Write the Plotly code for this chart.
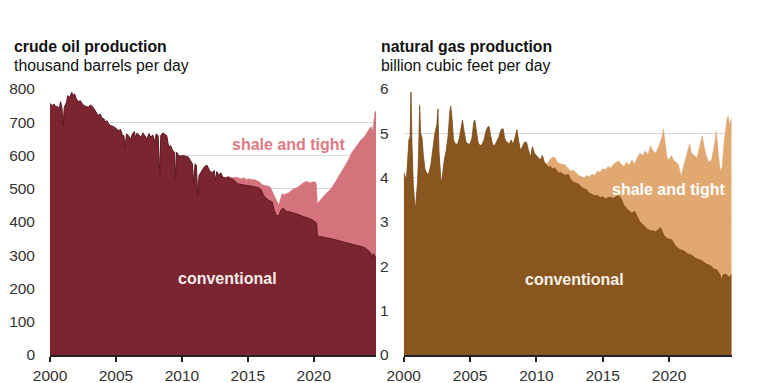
import plotly.graph_objects as go
from plotly.subplots import make_subplots

# ---------------- crude oil (thousand barrels per day) ----------------
oil_conv_year = [
    2000.00, 2000.15, 2000.30, 2000.45, 2000.55, 2000.70, 2000.80, 2000.90, 2001.00, 2001.08,
    2001.25, 2001.35, 2001.50, 2001.65, 2001.75, 2001.85, 2002.00, 2002.15, 2002.30, 2002.45,
    2002.60, 2002.75, 2002.90, 2003.05, 2003.20, 2003.35, 2003.50, 2003.65, 2003.80, 2003.95,
    2004.10, 2004.20, 2004.30, 2004.45, 2004.60, 2004.75, 2004.90, 2005.05, 2005.20, 2005.35,
    2005.50, 2005.60, 2005.70, 2005.80, 2005.95, 2006.10, 2006.25, 2006.40, 2006.50, 2006.60,
    2006.75, 2006.90, 2007.05, 2007.20, 2007.35, 2007.50, 2007.65, 2007.80, 2007.95, 2008.05,
    2008.20, 2008.33, 2008.40, 2008.55, 2008.70, 2008.85, 2009.00, 2009.15, 2009.30, 2009.45,
    2009.52, 2009.60, 2009.75, 2009.90, 2010.10, 2010.30, 2010.50, 2010.65, 2010.80, 2010.90,
    2011.00, 2011.10, 2011.20, 2011.30, 2011.50, 2011.70, 2011.90, 2012.10, 2012.30, 2012.45,
    2012.55, 2012.65, 2012.80, 2012.95, 2013.10, 2013.30, 2013.50, 2013.70, 2013.90, 2014.20,
    2014.60, 2015.00, 2015.40, 2015.80, 2016.00, 2016.20, 2016.35, 2016.60, 2016.85, 2017.00,
    2017.17, 2017.35, 2017.55, 2017.70, 2017.90, 2018.20, 2018.50, 2018.80, 2019.10, 2019.40,
    2019.70, 2019.95, 2020.15, 2020.22, 2020.27, 2020.45, 2020.70, 2021.00, 2021.30, 2021.60,
    2021.90, 2022.20, 2022.50, 2022.80, 2023.10, 2023.40, 2023.70, 2023.90, 2024.10, 2024.30,
    2024.40, 2024.50, 2024.60, 2024.72,
]
oil_conventional = [
    757, 750, 755, 745, 748, 740, 762, 745, 690, 745,
    760, 780, 775, 790, 778, 786, 770, 762, 765, 755,
    750, 748, 745, 752, 748, 740, 730, 720, 725, 712,
    710, 700, 705, 695, 690, 688, 685, 680, 675, 678,
    660, 660, 625, 665, 660, 648, 665, 672, 650, 668,
    660, 655, 668, 660, 650, 666, 655, 662, 640, 665,
    660, 541, 660, 668, 665, 660, 625, 630, 615, 610,
    532, 610, 600, 598, 600, 597, 595, 585, 575, 512,
    575, 570, 481, 540, 555, 566, 571, 555, 548, 555,
    525, 552, 540, 548, 535, 532, 535, 530, 528, 515,
    512, 510, 507, 503, 498, 480, 472, 465, 460, 435,
    418, 420, 438, 441, 432, 430, 427, 423, 418, 415,
    410, 405, 400, 396, 358, 356, 354, 352, 350, 347,
    345, 341, 338, 336, 333, 330, 325, 322, 316, 308,
    290, 305, 300, 292,
]

oil_total_year = [
    2013.30, 2013.50, 2013.70, 2013.90, 2014.10, 2014.30, 2014.50, 2014.70, 2014.90, 2015.10,
    2015.30, 2015.50, 2015.70, 2015.90, 2016.10, 2016.30, 2016.50, 2016.70, 2016.90, 2017.05,
    2017.17, 2017.35, 2017.45, 2017.60, 2017.75, 2017.90, 2018.10, 2018.30, 2018.50, 2018.70,
    2018.90, 2019.10, 2019.30, 2019.50, 2019.70, 2019.90, 2020.10, 2020.20, 2020.27, 2020.40,
    2020.60, 2020.80, 2021.00, 2021.30, 2021.60, 2021.80, 2022.10, 2022.35, 2022.60, 2022.85,
    2023.10, 2023.36, 2023.60, 2023.86, 2024.00, 2024.20, 2024.37, 2024.45, 2024.55, 2024.62,
    2024.72,
]
oil_total = [
    533, 537, 535, 533, 535, 532, 530, 533, 528, 530,
    527, 528, 525, 520, 512, 511, 508, 505, 490, 475,
    466, 451, 465, 486, 482, 485, 488, 495, 500, 502,
    508, 512, 520, 522, 518, 520, 521, 515, 455, 462,
    472, 480, 488, 500, 518, 532, 550, 566, 585, 607,
    622, 637, 648, 657, 667, 680, 687, 672, 700, 727,
    735,
]

# ---------------- natural gas (billion cubic feet per day) ----------------
gas_conv_year = [
    2000.00, 2000.10, 2000.20, 2000.30, 2000.40, 2000.48, 2000.55, 2000.62, 2000.72, 2000.87,
    2000.95, 2001.05, 2001.12, 2001.20, 2001.28, 2001.38, 2001.48, 2001.60, 2001.75, 2001.90,
    2002.05, 2002.20, 2002.35, 2002.50, 2002.58, 2002.66, 2002.75, 2002.82, 2002.92, 2003.05,
    2003.20, 2003.35, 2003.48, 2003.55, 2003.65, 2003.75, 2003.90, 2004.05, 2004.20, 2004.35,
    2004.43, 2004.55, 2004.70, 2004.85, 2005.00, 2005.15, 2005.28, 2005.36, 2005.45, 2005.60,
    2005.75, 2005.90, 2006.05, 2006.20, 2006.35, 2006.44, 2006.55, 2006.70, 2006.85, 2007.00,
    2007.15, 2007.30, 2007.40, 2007.50, 2007.60, 2007.75, 2007.84, 2007.95, 2008.10, 2008.25,
    2008.40, 2008.54, 2008.65, 2008.80, 2008.95, 2009.10, 2009.25, 2009.40, 2009.55, 2009.70,
    2009.85, 2010.00, 2010.15, 2010.30, 2010.45, 2010.60, 2010.75, 2010.90, 2011.05, 2011.20,
    2011.35, 2011.50, 2011.65, 2011.80, 2012.00, 2012.20, 2012.40, 2012.60, 2012.80, 2013.00,
    2013.20, 2013.40, 2013.60, 2013.80, 2014.00, 2014.20, 2014.40, 2014.60, 2014.80, 2015.00,
    2015.20, 2015.40, 2015.60, 2015.80, 2016.00, 2016.15, 2016.35, 2016.55, 2016.80, 2017.00,
    2017.20, 2017.40, 2017.60, 2017.80, 2018.00, 2018.20, 2018.40, 2018.60, 2018.80, 2019.00,
    2019.37, 2019.60, 2019.90, 2020.20, 2020.50, 2020.80, 2021.10, 2021.40, 2021.70, 2022.00,
    2022.30, 2022.50, 2022.80, 2023.10, 2023.40, 2023.60, 2023.85, 2023.95, 2024.05, 2024.20,
    2024.35, 2024.55, 2024.72,
]
gas_conventional = [
    4.12, 4.00, 3.95, 4.40, 4.87, 4.90, 5.93, 4.80, 3.85, 3.25,
    3.60, 3.93, 4.50, 5.63, 5.00, 4.90, 4.50, 4.20, 4.08, 4.10,
    4.30, 4.70, 5.00, 5.20, 5.55, 4.60, 3.95, 3.85, 4.05, 4.38,
    4.60, 4.95, 5.50, 5.61, 5.30, 4.85, 4.76, 4.75, 4.90, 5.20,
    5.30, 5.05, 4.80, 4.76, 4.76, 4.90, 5.25, 5.30, 5.10, 4.80,
    4.72, 4.75, 4.85, 5.05, 5.15, 5.15, 4.95, 4.75, 4.72, 4.80,
    4.90, 5.05, 5.10, 5.10, 4.90, 4.80, 4.80, 4.75, 4.85, 4.75,
    4.90, 5.08, 4.85, 4.61, 4.70, 4.80, 4.80, 4.60, 4.45, 4.70,
    4.55, 4.50, 4.45, 4.40, 4.50, 4.35, 4.30, 4.23, 4.25, 4.20,
    4.22, 4.18, 4.10, 4.12, 4.08, 4.05, 4.08, 3.95, 3.90, 3.87,
    3.85, 3.78, 3.74, 3.72, 3.65, 3.62, 3.59, 3.60, 3.55, 3.57,
    3.52, 3.55, 3.56, 3.53, 3.56, 3.60, 3.55, 3.40, 3.30, 3.25,
    3.20, 3.24, 3.10, 3.00, 2.95, 2.88, 2.83, 2.80, 2.80, 2.78,
    2.87, 2.70, 2.62, 2.60, 2.45, 2.38, 2.35, 2.28, 2.25, 2.18,
    2.15, 2.12, 2.05, 2.02, 1.93, 1.92, 1.80, 1.66, 1.80, 1.82,
    1.81, 1.75, 1.82,
]

gas_total_year = [
    2010.80, 2011.00, 2011.20, 2011.40, 2011.60, 2011.80, 2012.00, 2012.20, 2012.40, 2012.60,
    2012.80, 2013.00, 2013.20, 2013.40, 2013.60, 2013.80, 2014.00, 2014.20, 2014.40, 2014.60,
    2014.80, 2015.00, 2015.20, 2015.40, 2015.60, 2015.80, 2016.00, 2016.20, 2016.40, 2016.60,
    2016.80, 2017.00, 2017.20, 2017.40, 2017.60, 2017.80, 2018.00, 2018.20, 2018.40, 2018.60,
    2018.80, 2019.00, 2019.20, 2019.45, 2019.57, 2019.70, 2019.85, 2020.00, 2020.15, 2020.35,
    2020.55, 2020.70, 2020.90, 2021.10, 2021.35, 2021.55, 2021.70, 2021.90, 2022.10, 2022.30,
    2022.50, 2022.65, 2022.80, 2023.00, 2023.20, 2023.45, 2023.55, 2023.70, 2023.85, 2024.00,
    2024.15, 2024.35, 2024.45, 2024.55, 2024.72,
]
gas_total = [
    4.30, 4.40, 4.46, 4.45, 4.35, 4.31, 4.30, 4.28, 4.20, 4.15,
    4.17, 4.10, 4.05, 4.02, 4.00, 4.05, 4.02, 4.08, 4.05, 4.15,
    4.12, 4.20, 4.18, 4.25, 4.22, 4.30, 4.35, 4.38, 4.30, 4.25,
    4.35, 4.28, 4.40, 4.30, 4.45, 4.55, 4.50, 4.60, 4.52, 4.72,
    4.60, 4.55, 4.70, 4.90, 5.10, 4.75, 4.45, 4.40, 4.50, 4.40,
    4.35, 4.30, 4.04, 4.30, 4.55, 4.76, 4.55, 4.50, 4.45, 4.70,
    4.95, 4.70, 4.50, 4.35, 4.40, 4.80, 5.06, 4.60, 4.15, 4.25,
    4.80, 5.30, 5.40, 5.20, 5.35,
]

x_ticks = [2000, 2005, 2010, 2015, 2020]
oil_y_ticks = [0, 100, 200, 300, 400, 500, 600, 700, 800]
gas_y_ticks = [0, 1, 2, 3, 4, 5, 6]

OIL_CONV = "#7a2530"
OIL_SHALE = "#d5737c"
GAS_CONV = "#8a561f"
GAS_SHALE = "#e1a872"
FONT = "Liberation Sans, Arial, sans-serif"

# page body margin offset (the html page has an 8px body margin)
OFF = 8
W, H = 768 - OFF, 383 - OFF
TOP, BOT = 89, 355          # screen y of value max / zero line
M_T, M_B = TOP - OFF, 383 - BOT
PH = BOT - TOP


def px_x(px):
    return (px - OFF) / W


def px_y(py):
    return (BOT - py) / PH


fig = make_subplots(rows=1, cols=2)

fig.add_trace(go.Scatter(x=oil_total_year, y=oil_total, mode="lines", fill="tozeroy",
                         line=dict(color=OIL_SHALE, width=0.5), fillcolor=OIL_SHALE,
                         hoverinfo="skip", showlegend=False), row=1, col=1)
fig.add_trace(go.Scatter(x=oil_conv_year, y=oil_conventional, mode="lines", fill="tozeroy",
                         line=dict(color="#5c1720", width=1), fillcolor=OIL_CONV,
                         hoverinfo="skip", showlegend=False), row=1, col=1)
fig.add_trace(go.Scatter(x=gas_total_year, y=gas_total, mode="lines", fill="tozeroy",
                         line=dict(color=GAS_SHALE, width=0.5), fillcolor=GAS_SHALE,
                         hoverinfo="skip", showlegend=False), row=1, col=2)
fig.add_trace(go.Scatter(x=gas_conv_year, y=gas_conventional, mode="lines", fill="tozeroy",
                         line=dict(color="#7a4a18", width=0.8), fillcolor=GAS_CONV,
                         hoverinfo="skip", showlegend=False), row=1, col=2)

xcommon = dict(range=[2000, 2024.72], tickvals=x_ticks, ticks="outside", ticklen=5,
               tickwidth=1.5, tickcolor="#222", showline=True, linecolor="#222", linewidth=2,
               showgrid=False, zeroline=False, tickfont=dict(size=15.5, color="#333", family=FONT),
               automargin=False, fixedrange=True)
fig.update_xaxes(**xcommon)
fig.update_xaxes(domain=[px_x(50), px_x(376)], row=1, col=1)
fig.update_xaxes(domain=[px_x(403.7), px_x(731.7)], row=1, col=2)

ycommon = dict(showgrid=True, gridcolor="#d9d9d9", gridwidth=1, zeroline=False, ticks="",
               showline=False, tickfont=dict(size=15.5, color="#333", family=FONT),
               ticklabelstandoff=14, automargin=False, fixedrange=True)
fig.update_yaxes(**ycommon)
fig.update_yaxes(range=[0, 800], tickvals=oil_y_ticks, row=1, col=1)
fig.update_yaxes(range=[0, 6], tickvals=gas_y_ticks, row=1, col=2)

annotations = []
titles = [
    ("<b>crude oil production</b>", 12, 46, 15.8),
    ("thousand barrels per day", 12, 65, 15.8),
    ("<b>natural gas production</b>", 379, 46, 15.8),
    ("billion cubic feet per day", 379, 65, 15.8),
]
for t, px, py, fs in titles:
    annotations.append(dict(xref="paper", yref="paper", xanchor="left", yanchor="middle",
                            showarrow=False, text=t, x=px_x(px), y=px_y(py),
                            font=dict(family=FONT, size=fs, color="#111")))

labels = [
    ("<b>shale and tight</b>", 289, 144, "#df7a83"),
    ("<b>conventional</b>", 227, 278, "#f7ecec"),
    ("<b>shale and tight</b>", 669, 189, "#ffffff"),
    ("<b>conventional</b>", 574, 279, "#fbf3ea"),
]
for t, px, py, c in labels:
    annotations.append(dict(xref="paper", yref="paper", xanchor="center", yanchor="middle",
                            showarrow=False, text=t, x=px_x(px), y=px_y(py),
                            font=dict(family=FONT, size=16, color=c)))

fig.update_layout(width=W, height=H, margin=dict(l=0, r=0, t=M_T, b=M_B, pad=0),
                  paper_bgcolor="white", plot_bgcolor="white",
                  annotations=annotations, showlegend=False)

fig.write_html("out.html", config={"displayModeBar": False})
